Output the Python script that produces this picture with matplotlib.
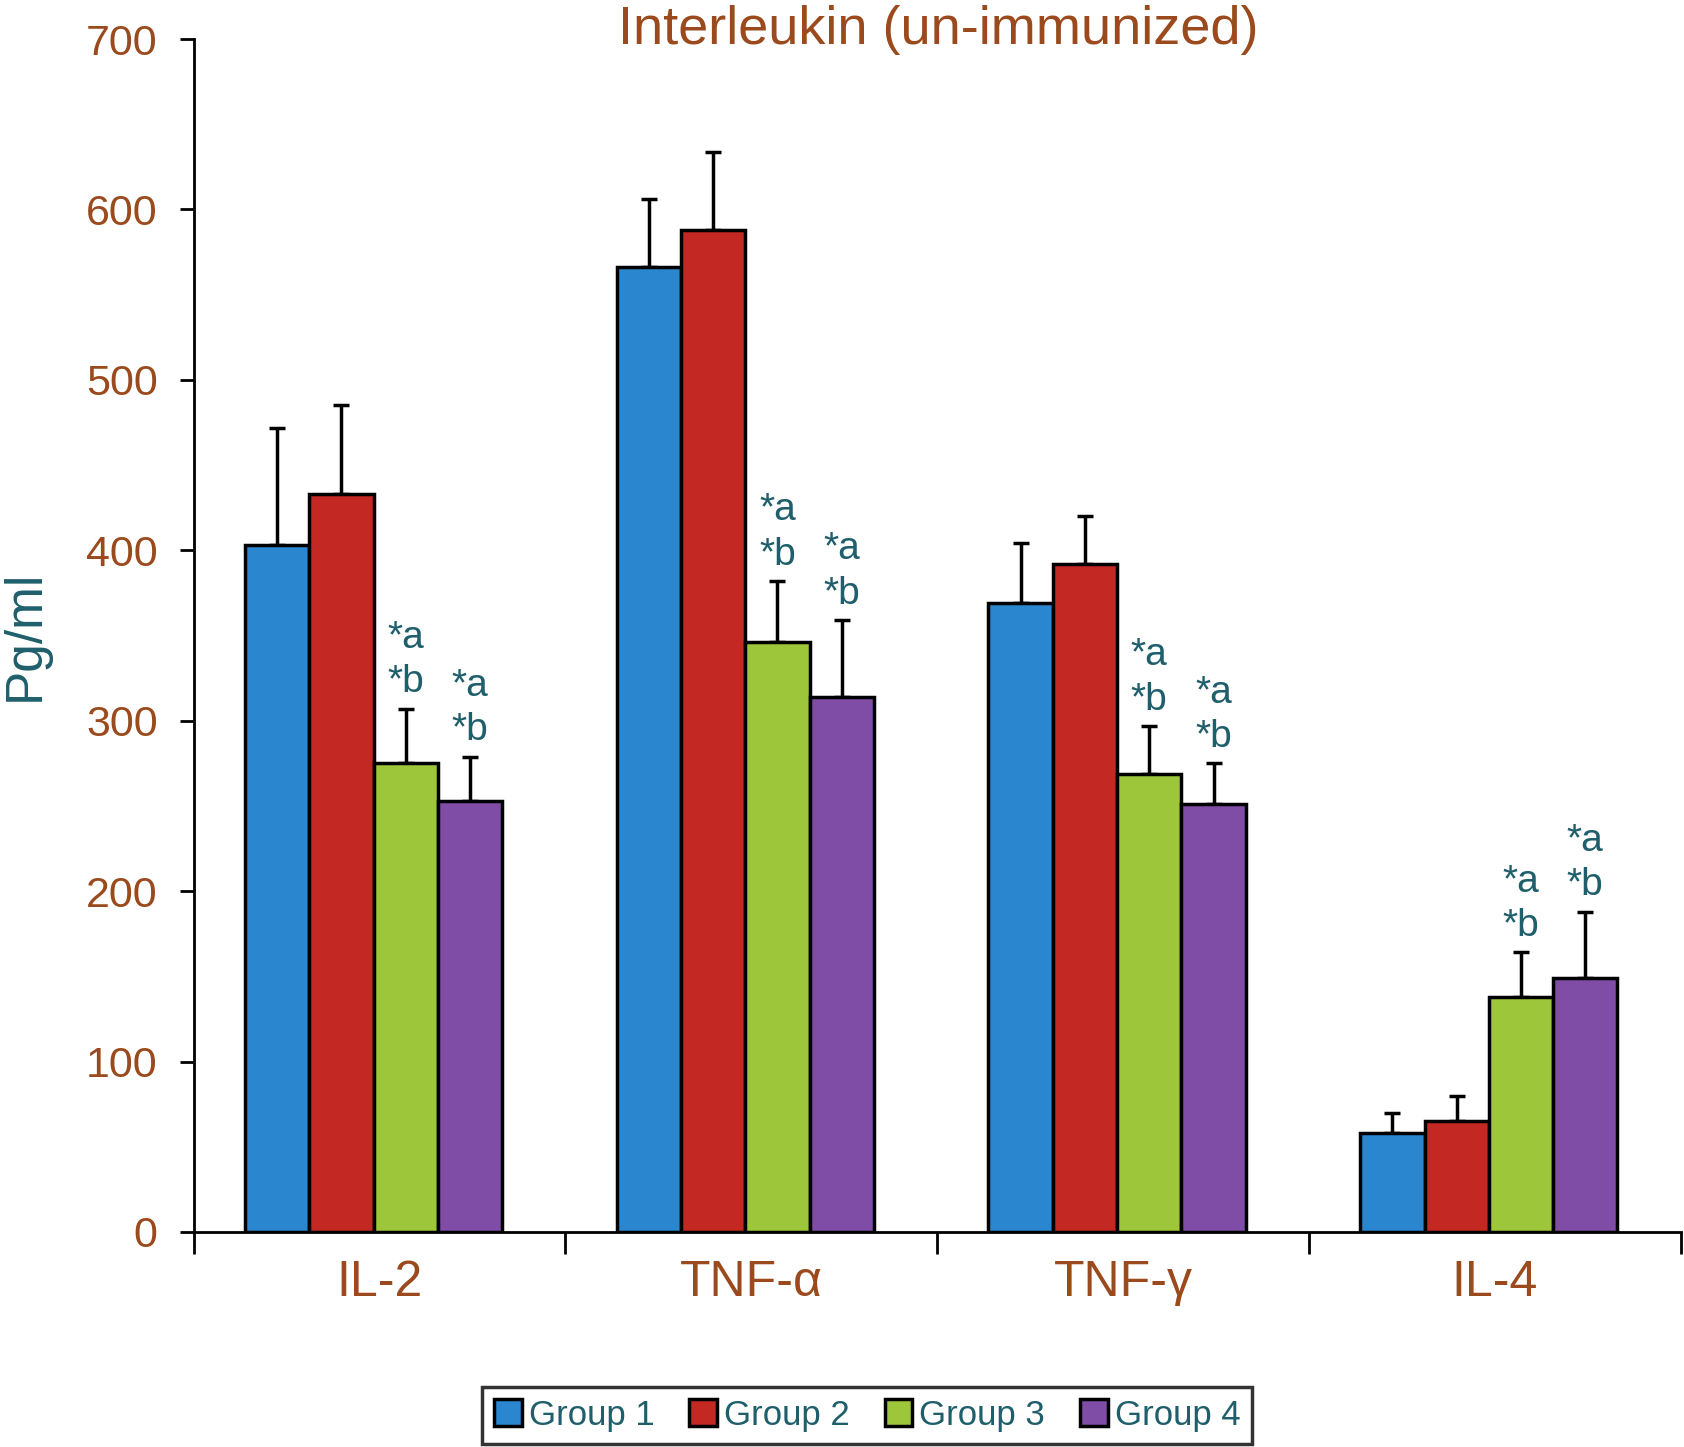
import matplotlib.pyplot as plt
import numpy as np

# data
cytokines = ['IL-2', 'TNF-\u03b1', 'TNF-\u03b3', 'IL-4']
groups = ['Group 1', 'Group 2', 'Group 3', 'Group 4']
group1 = [403, 566, 369, 58]
group2 = [433, 588, 392, 65]
group3 = [275, 346, 269, 138]
group4 = [253, 314, 251, 149]
group1_err = [69, 40, 35, 12]
group2_err = [52, 46, 28, 15]
group3_err = [32, 36, 28, 26]
group4_err = [26, 45, 24, 39]
# which bars get the "*a / *b" marks
marked = ['Group 3', 'Group 4']

BROWN = '#9A4A1C'
TEAL = '#1F5F6B'
colors = ['#2A87CF', '#C42823', '#9DC63A', '#7F4DA6']

plt.rcParams['font.family'] = ['Liberation Sans', 'DejaVu Sans']

fig = plt.figure(figsize=(16.84, 14.47), dpi=100)
ax = fig.add_axes([0.115, 0.1486, 0.883, 0.8244])

values = [group1, group2, group3, group4]
errors = [group1_err, group2_err, group3_err, group4_err]
x = np.arange(len(cytokines))
width = 0.173
for i, (name, vals, errs) in enumerate(zip(groups, values, errors)):
  offset = (i - 1.5) * width - 0.016
  ax.bar(x + offset, vals, width, color=colors[i], edgecolor='black',
         linewidth=2.5, label=name, zorder=2)
  ax.errorbar(x + offset, vals, yerr=[np.zeros(len(vals)), errs], fmt='none',
              ecolor='black', elinewidth=2.5, capsize=6, capthick=2.5, zorder=1)
  if name in marked:
    for xi, v, e in zip(x + offset, vals, errs):
      ax.annotate('*a\n*b', (xi, v + e), xytext=(0, 6), textcoords='offset points',
                  ha='center', va='bottom', fontsize=28, color=TEAL,
                  linespacing=1.3)

ax.set_xlim(-0.5, 3.5)
ax.set_ylim(0, 700)
ax.set_yticks(np.arange(0, 701, 100))
ax.tick_params(axis='y', labelsize=31, labelcolor=BROWN, length=10, width=2,
               direction='out', pad=16)
ax.set_xticks(x)
ax.set_xticklabels(cytokines)
ax.tick_params(axis='x', which='major', length=0, labelsize=36, labelcolor=BROWN, pad=20)
ax.set_xticks(np.arange(-0.5, 4, 1), minor=True)
ax.tick_params(axis='x', which='minor', length=16, width=2, direction='out')

for side in ['top', 'right']:
  ax.spines[side].set_visible(False)
for side in ['left', 'bottom']:
  ax.spines[side].set_linewidth(2)

ax.set_ylabel('Pg/ml', fontsize=37, color=TEAL)
ax.yaxis.set_label_coords(-0.097, 0.5)
fig.text(0.557, 0.979, 'Interleukin (un-immunized)', fontsize=39, color=BROWN,
         ha='center', va='center')

leg = fig.legend(loc='center', bbox_to_anchor=(0.515, 0.022), ncol=4, fontsize=25,
                 frameon=True, fancybox=False, edgecolor='black', handlelength=0.8,
                 handleheight=0.8, handletextpad=0.2, columnspacing=1.0,
                 borderpad=0.35)
leg.get_frame().set_linewidth(2.5)
for t in leg.get_texts():
  t.set_color(TEAL)

plt.savefig('out.png', dpi=100)
